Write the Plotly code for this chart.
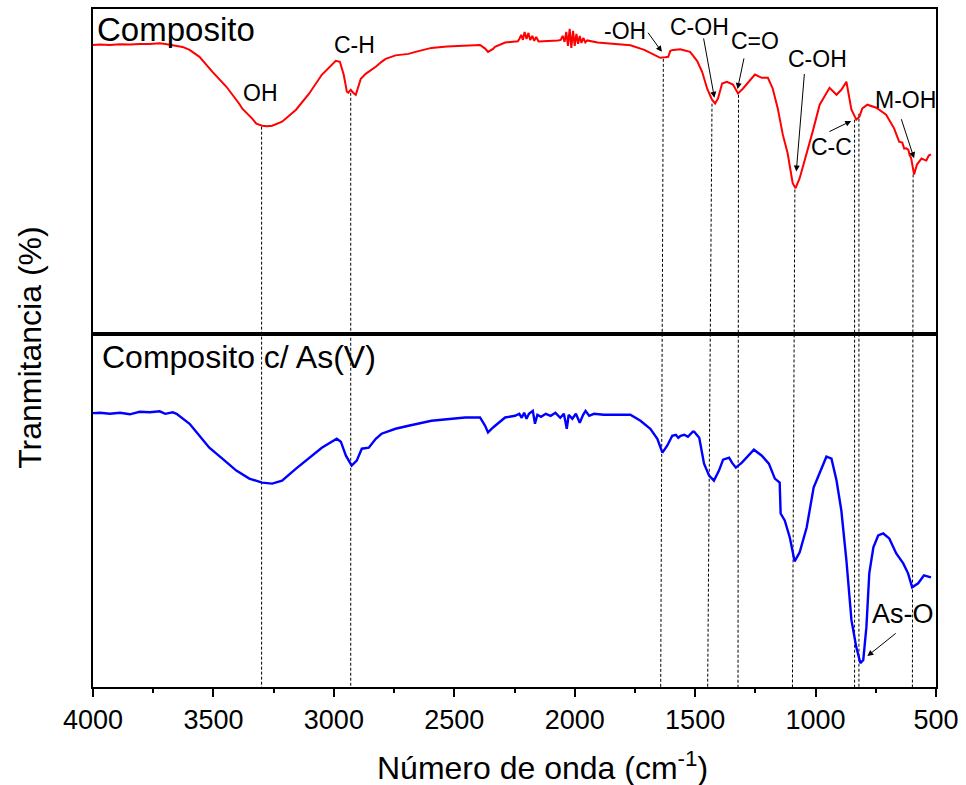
import plotly.graph_objects as go

# FTIR spectra (transmittance, arbitrary units) --------------------------
wn_comp = [4000, 3971, 3930, 3888, 3847, 3806, 3764, 3723, 3700, 3669, 3628, 3599, 3558, 3504,
           3446, 3393, 3380, 3339, 3322, 3298, 3277, 3256, 3215, 3157, 3103, 3050, 2992, 2975,
           2959, 2946, 2940, 2930, 2920, 2909, 2888, 2868, 2826, 2802, 2785, 2744, 2690, 2661,
           2595, 2530, 2455, 2393, 2372, 2360, 2339, 2331, 2289, 2236, 2230, 2222, 2215, 2208,
           2200, 2192, 2185, 2176, 2168, 2160, 2150, 2124, 2070, 2058, 2050, 2042, 2035, 2028,
           2021, 2014, 2007, 2000, 1993, 1986, 1979, 1972, 1964, 1956, 1948, 1905, 1835, 1769,
           1711, 1669, 1645, 1624, 1612, 1603, 1591, 1562, 1521, 1492, 1471, 1450, 1430, 1417,
           1405, 1388, 1368, 1343, 1322, 1302, 1273, 1252, 1223, 1198, 1178, 1157, 1136, 1116,
           1095, 1083, 1066, 1037, 1012, 983, 942, 913, 893, 872, 851, 831, 818, 806, 785, 748,
           707, 674, 653, 640, 632, 624, 615, 610, 603, 591, 579, 570, 560, 550, 540, 530, 521]
t_comp = [290, 290.5, 290, 290.7, 290.4, 291, 290.8, 291.7, 291, 290, 288, 285, 278, 263,
          248, 231, 226, 216, 211, 209, 208.5, 209, 213, 225, 241, 260, 274, 273,
          260, 243, 242, 245, 242, 240, 256, 261, 268, 273, 276, 279.5, 281, 283,
          287, 288.5, 289.7, 290, 286.3, 283, 286, 288, 292.3, 293.7, 296, 300, 295, 303,
          296, 302, 295, 299, 294, 298, 293.5, 293.7, 294.5, 295, 299, 293, 303, 289,
          306, 287, 304, 289, 301, 291, 299, 292, 297, 292.5, 294.5, 292.3, 291.3, 289.7,
          285, 280, 277, 277.5, 278, 284, 285, 285.7, 283, 274, 263, 246, 235, 231.3,
          236.3, 251.3, 253, 250.3, 241.3, 246, 255, 260.3, 257, 257, 246.3, 226.3, 200, 181.3,
          151.3, 146.3, 156.3, 180, 203, 230, 247, 240, 245, 253, 225, 215, 218, 226.3, 230, 227,
          220, 206.3, 193, 192, 186, 186.3, 185, 180, 176.3, 160, 170, 173, 176, 175, 174, 179, 180.3]

wn_as = [4000, 3971, 3930, 3888, 3847, 3806, 3764, 3723, 3700, 3669, 3653, 3628, 3599, 3558,
         3517, 3463, 3405, 3351, 3298, 3256, 3215, 3157, 3103, 3050, 2988, 2971, 2950, 2926,
         2905, 2884, 2855, 2826, 2802, 2744, 2690, 2595, 2455, 2393, 2372, 2360, 2339, 2289,
         2248, 2230, 2220, 2210, 2200, 2190, 2174, 2165, 2155, 2140, 2120, 2100, 2080, 2060,
         2045, 2033, 2025, 2010, 1995, 1979, 1965, 1955, 1940, 1920, 1880, 1840, 1800, 1769,
         1727, 1686, 1657, 1636, 1616, 1595, 1580, 1570, 1560, 1545, 1530, 1510, 1504, 1483,
         1463, 1442, 1422, 1401, 1384, 1359, 1347, 1331, 1306, 1256, 1223, 1194, 1169, 1149,
         1145, 1128, 1107, 1087, 1066, 1037, 1008, 983, 955, 934, 913, 893, 872, 851, 831, 814,
         802, 789, 777, 760, 740, 719, 694, 665, 636, 616, 599, 574, 550, 521]
t_as = [274.7, 275, 274, 275, 273.5, 276, 275.5, 276.5, 274, 275.5, 274, 269, 264, 252,
        240, 229, 217, 209, 205, 204, 207, 219, 230, 240, 249, 246, 232, 222,
        227, 239, 240, 249, 254, 259, 262, 267, 270.3, 270.3, 262, 255.3, 260.3, 270.3,
        272, 274, 270, 275, 269, 274, 277, 264, 273, 271, 274, 272, 275, 270,
        274, 259, 273, 269, 274, 265, 273, 277, 272, 274, 273, 273, 272.5, 273,
        267, 259, 249, 235, 242, 252, 253, 250, 252, 253, 251, 256, 256, 250,
        224, 212, 207, 217, 228, 230, 225, 220, 225, 238, 232, 224, 209, 205,
        174, 167, 150, 126, 135, 160, 200, 214, 231, 229, 207, 177, 127, 67, 40, 24,
        27, 60, 114, 140, 152, 154, 149, 134, 124, 114, 100, 104, 112, 110]

# Band assignments: guide lines (top-panel wavenumber, bottom wavenumber, start level)
band_wn_top = [3300, 2930, 1632, 1430, 1320, 1086, 838, 820, 595]
band_wn_bottom = [3300, 2930, 1643, 1448, 1322, 1096, 838, 820, 598]
band_start = [208, 242, 276, 231, 240, 145, 215, 221, 160]

# Labels in the top panel: (text, x, y)
top_labels = [("OH", 3304, 241.5), ("C-H", 2913, 290), ("-OH", 1793, 303.5),
              ("C-OH", 1481, 308.3), ("C=O", 1252, 293.5), ("C-OH", 993, 276.3),
              ("C-C", 935, 188), ("M-OH", 627, 235)]
# Arrows in the top panel: (tail x, tail y, tip x, tip y)
top_arrows = [(1700, 303.7, 1638, 283), (1466, 298, 1420, 237), (1296, 278, 1324, 245.7),
              (1046, 262.3, 1080, 163), (949, 202.3, 852, 213.7), (646, 217, 591, 176.3)]

TOP_RANGE = [0, 326]
BOT_RANGE = [0, 354]
SPLIT = 0.5206
FONT = "Arial, Liberation Sans, sans-serif"

fig = go.Figure()
fig.add_trace(go.Scatter(x=wn_comp, y=t_comp, mode="lines", xaxis="x2", yaxis="y2",
                         line=dict(color="#ff0000", width=2), showlegend=False))
fig.add_trace(go.Scatter(x=wn_as, y=t_as, mode="lines", xaxis="x", yaxis="y",
                         line=dict(color="#0000ff", width=2.4), showlegend=False))

shapes = []
for xt, xb, ys in zip(band_wn_top, band_wn_bottom, band_start):
    y_paper = SPLIT + ys / TOP_RANGE[1] * (1 - SPLIT)
    shapes.append(dict(type="line", xref="x", yref="paper", x0=xt, x1=xb, y0=y_paper, y1=0,
                       line=dict(color="black", width=1, dash="3px,2px"), layer="below"))

annotations = []
for txt, x, y in top_labels:
    annotations.append(dict(text=txt, x=x, y=y, xref="x2", yref="y2", showarrow=False,
                            xanchor="center", yanchor="middle",
                            font=dict(family=FONT, size=23, color="black")))
for ax_, ay_, x, y in top_arrows:
    annotations.append(dict(text="", x=x, y=y, ax=ax_, ay=ay_, xref="x2", yref="y2",
                            axref="x2", ayref="y2", showarrow=True, arrowhead=2,
                            arrowsize=1.2, arrowwidth=1, arrowcolor="black", standoff=0))
annotations.append(dict(text="As-O", x=639, y=73.7, xref="x", yref="y", showarrow=False,
                        font=dict(family=FONT, size=27, color="black")))
annotations.append(dict(text="", x=785, y=31, ax=661, ay=55, xref="x", yref="y",
                        axref="x", ayref="y", showarrow=True, arrowhead=2, arrowsize=1.2,
                        arrowwidth=1, arrowcolor="black", standoff=0))
annotations.append(dict(text="Composito", x=3992, y=305.5, xref="x2", yref="y2",
                        showarrow=False, xanchor="left", yanchor="middle",
                        font=dict(family=FONT, size=33, color="black")))
annotations.append(dict(text="Composito c/ As(V)", x=3971, y=331, xref="x", yref="y",
                        showarrow=False, xanchor="left", yanchor="middle",
                        font=dict(family=FONT, size=32, color="black")))
# axis titles
annotations.append(dict(text="Tranmitancia (%)", xref="paper", yref="paper", x=-0.075, y=0.5,
                        textangle=-90, showarrow=False, xanchor="center", yanchor="middle",
                        font=dict(family=FONT, size=32, color="black")))
annotations.append(dict(text="Número de onda (cm<sup>-1</sup>)", xref="paper", yref="paper",
                        x=0.5337, y=-0.116, showarrow=False, xanchor="center", yanchor="middle",
                        font=dict(family=FONT, size=32, color="black")))

axis_line = dict(showline=True, mirror=True, linecolor="black", linewidth=1.6,
                 showgrid=False, zeroline=False)

fig.update_layout(
    width=966, height=785,
    margin=dict(l=93, r=26, t=7, b=98),
    paper_bgcolor="white", plot_bgcolor="white",
    shapes=shapes, annotations=annotations,
    xaxis=dict(domain=[0, 1], anchor="y", range=[4000, 500], tickmode="array",
               tickvals=[4000, 3500, 3000, 2500, 2000, 1500, 1000, 500],
               ticks="outside", ticklen=8, tickwidth=1.5, tickcolor="black",
               minor=dict(tickmode="array", tickvals=[3750, 3250, 2750, 2250, 1750, 1250, 750],
                          ticks="outside", ticklen=4, tickwidth=1.5, tickcolor="black"),
               tickfont=dict(family=FONT, size=27, color="black"),
               **axis_line),
    xaxis2=dict(domain=[0, 1], anchor="y2", matches="x", range=[4000, 500],
                showticklabels=False, ticks="", **axis_line),
    yaxis=dict(domain=[0, SPLIT], anchor="x", range=BOT_RANGE, showticklabels=False,
               ticks="", **axis_line),
    yaxis2=dict(domain=[SPLIT, 1], anchor="x2", range=TOP_RANGE, showticklabels=False,
                ticks="", **axis_line),
)

fig.write_html("out.html")
